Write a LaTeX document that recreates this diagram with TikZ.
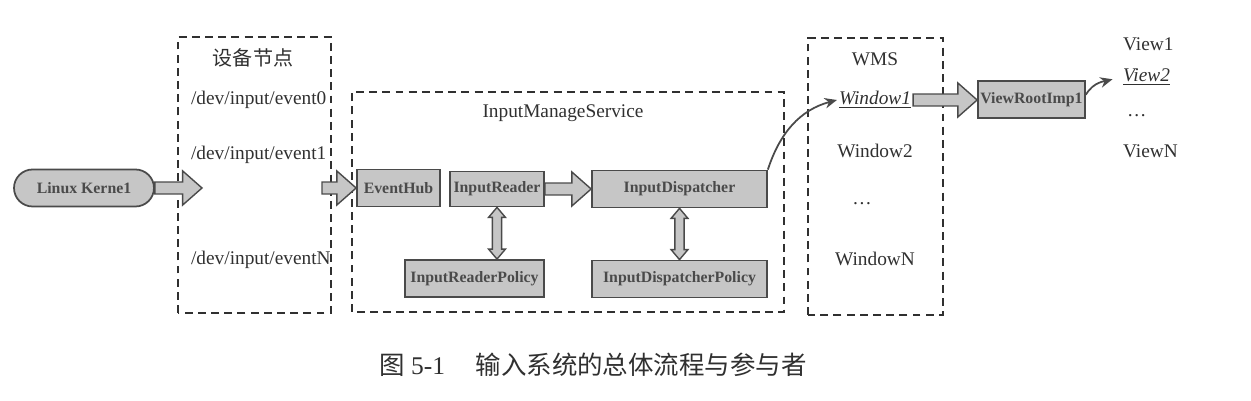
\documentclass[tikz,border=0pt]{standalone}
\usepackage{fontspec}
\setmainfont{Liberation Serif}
\newfontfamily\cjk{Noto Sans CJK SC}
\usetikzlibrary{shapes.misc,arrows.meta,calc}
\definecolor{boxgray}{HTML}{C6C6C6}
\definecolor{edgegray}{HTML}{4A4A4A}
\definecolor{inkgray}{HTML}{303030}
\tikzset{
  group/.style={draw=inkgray, line width=0.8pt, dash pattern=on 4.5pt off 3pt},
  comp/.style={draw=edgegray, fill=boxgray, line width=1pt, text=edgegray, inner sep=0pt,
    font=\fontsize{9}{10}\selectfont\bfseries, minimum height=0.74cm},
  lbl/.style={font=\fontsize{11}{13}\selectfont, text=inkgray, inner sep=1pt},
  fatarr/.style={draw=edgegray, fill=boxgray, line width=0.8pt, line join=miter},
  curvarr/.style={draw=edgegray, line width=1pt, -{Stealth[length=7pt,width=6pt]}}
}
% fat horizontal arrow, from #1 to #2
\newcommand\fatarrow[2]{%
  \path[fatarr] let \p1=(#1), \p2=(#2) in
    (\x1,\y1+3.4pt) -- (\x2-11pt,\y1+3.4pt) -- (\x2-11pt,\y1+9.7pt) -- (\x2,\y1)
    -- (\x2-11pt,\y1-9.7pt) -- (\x2-11pt,\y1-3.4pt) -- (\x1,\y1-3.4pt) -- cycle;}
% fat vertical arrow with two heads, #1 above #2
\newcommand\dblfat[2]{%
  \path[fatarr] let \p1=(#1), \p2=(#2) in
    (\x1,\y1) -- (\x1+4.8pt,\y1-5.7pt) -- (\x1+2.6pt,\y1-5.7pt) -- (\x1+2.6pt,\y2+5.7pt)
    -- (\x1+4.8pt,\y2+5.7pt) -- (\x1,\y2) -- (\x1-4.8pt,\y2+5.7pt) -- (\x1-2.6pt,\y2+5.7pt)
    -- (\x1-2.6pt,\y1-5.7pt) -- (\x1-4.8pt,\y1-5.7pt) -- cycle;}
\begin{document}
\begin{tikzpicture}[x=0.02cm, y=0.02cm]
        \useasboundingbox (0,0) rectangle (1251,401);
        % dashed groups
        \draw[group] (178,88) rectangle (331,364);
        \draw[group] (352,89) rectangle (784,309);
        \draw[group] (808,86) rectangle (943,363);
        \node[lbl, font=\cjk\fontsize{11.4}{13}\selectfont] (devtitle) at (253,343) {设备节点};
        \foreach \ev/\yy in {0/301,1/246,N/141}
        \node[lbl, anchor=west] (ev\ev) at (189,\yy) {/dev/input/event\ev};
        \node[lbl] (imstitle) at (563,288) {InputManageService};
        \node[lbl] (wmstitle) at (875,342) {WMS};
        \node[lbl] (win1) at (875,301) {\underline{\textit{Window1}}};
        \foreach \nm/\yy in {Window2/250,WindowN/142}
        \node[lbl] (\nm) at (875,\yy) {\nm};
        \node[lbl] (windots) at (862,197) {\ldots};
        \node[lbl, anchor=west] (view1) at (1121,357) {View1};
        \node[lbl, anchor=west] (view2) at (1121,324) {\underline{\textit{View2}}};
        \node[lbl, anchor=west] (viewdots) at (1125,285) {\ldots};
        \node[lbl, anchor=west] (viewN) at (1121,250) {ViewN};
        % components
        \node[comp, rounded rectangle, minimum width=2.8cm] (kernel) at (84,213) {Linux Kerne1};
        \node[comp, minimum width=1.66cm] (hub) at (398.5,213) {EventHub};
        \node[comp, minimum width=1.88cm, minimum height=0.7cm] (reader) at (497,212) {InputReader};
        \node[comp, minimum width=3.5cm] (disp) at (679.5,212) {InputDispatcher};
        \node[comp, minimum width=2.78cm] (rpolicy) at (474.5,122.5) {InputReaderPolicy};
        \node[comp, minimum width=3.5cm] (dpolicy) at (679.5,122) {InputDispatcherPolicy};
        \node[comp, minimum width=2.14cm] (vroot) at (1031.5,301.5) {ViewRootImp1};
        \coordinate (devin) at (202,213);
        \coordinate (devout) at (322,213);
        % connectors
        \fatarrow{kernel.east}{devin}
        \fatarrow{devout}{hub.west}
        \fatarrow{reader.east}{disp.west}
        \fatarrow{win1.east}{vroot.west}
        \dblfat{reader.south}{reader.south |- rpolicy.north}
        \dblfat{disp.south}{dpolicy.north}
        \draw[curvarr] (disp.north east) to[out=72,in=195] (win1.west);
        \draw[curvarr, shorten >=5pt] (vroot.5) to[out=60,in=195] (view2.west);
        \node[font=\fontsize{14.5}{16}\selectfont, text=inkgray] (caption) at (593,36)
          {{\cjk 图} 5-1\hspace{1.2em}{\cjk 输入系统的总体流程与参与者}};
\end{tikzpicture}
\end{document}
